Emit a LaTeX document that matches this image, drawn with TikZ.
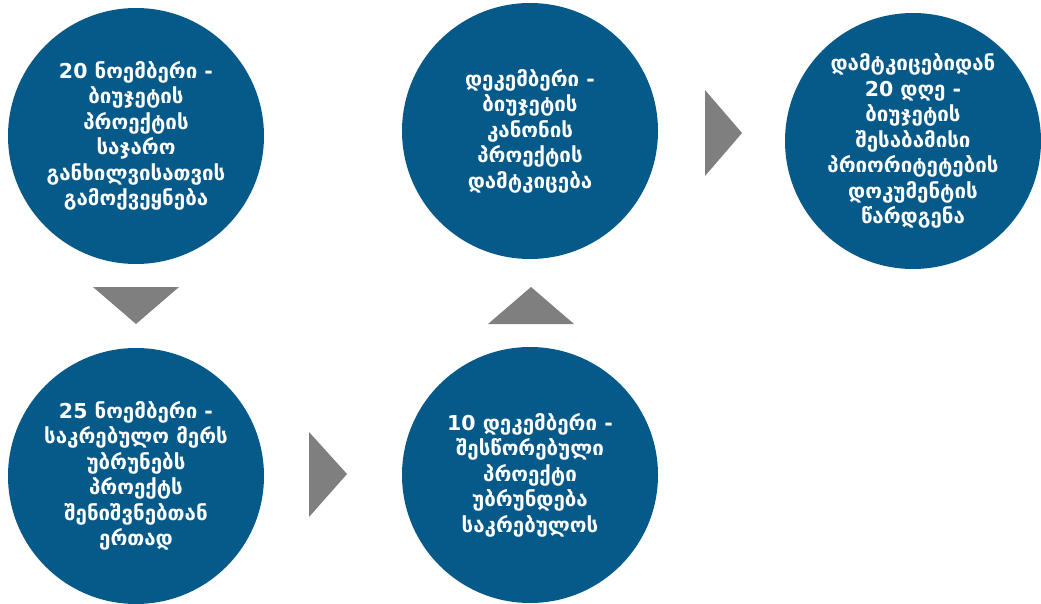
\documentclass[tikz,border=0pt]{standalone}
\usepackage{fontspec}
\setmainfont{DejaVu Sans}
\definecolor{stepblue}{RGB}{6,90,137}
\definecolor{flowgray}{RGB}{127,127,127}
\begin{document}
\begin{tikzpicture}[x=1pt,y=-1pt,
  stage/.style={circle,fill=stepblue,minimum size=256pt,inner sep=0pt,
    text=white,align=center,font=\bfseries\fontsize{20.5}{25.5}\selectfont},
  pointer/.style={fill=flowgray}]
\useasboundingbox (0,0) rectangle (1041,604);

% stages of the budget timeline
\node[stage] (s1) at (136,136) {20 ნოემბერი -\\ბიუჯეტის\\პროექტის\\საჯარო\\განხილვისათვის\\გამოქვეყნება};
\node[stage] (s2) at (136,476) {25 ნოემბერი -\\საკრებულო მერს\\უბრუნებს\\პროექტს\\შენიშვნებთან\\ერთად};
\node[stage] (s3) at (530,131) {დეკემბერი -\\ბიუჯეტის\\კანონის\\პროექტის\\დამტკიცება};
\node[stage] (s4) at (913,141) {დამტკიცებიდან\\20 დღე -\\ბიუჯეტის\\შესაბამისი\\პრიორიტეტების\\დოკუმენტის\\წარდგენა};
\node[stage] (s5) at (530,475) {10 დეკემბერი -\\შესწორებული\\პროექტი\\უბრუნდება\\საკრებულოს};

% gray direction markers between stages
\fill[pointer] (93,287) -- (179,287) -- (136,324) -- cycle;
\fill[pointer] (309,432) -- (347,474) -- (309,517) -- cycle;
\fill[pointer] (488,324) -- (531,287) -- (574,324) -- cycle;
\fill[pointer] (705,90) -- (742,133) -- (705,176) -- cycle;
\end{tikzpicture}
\end{document}
